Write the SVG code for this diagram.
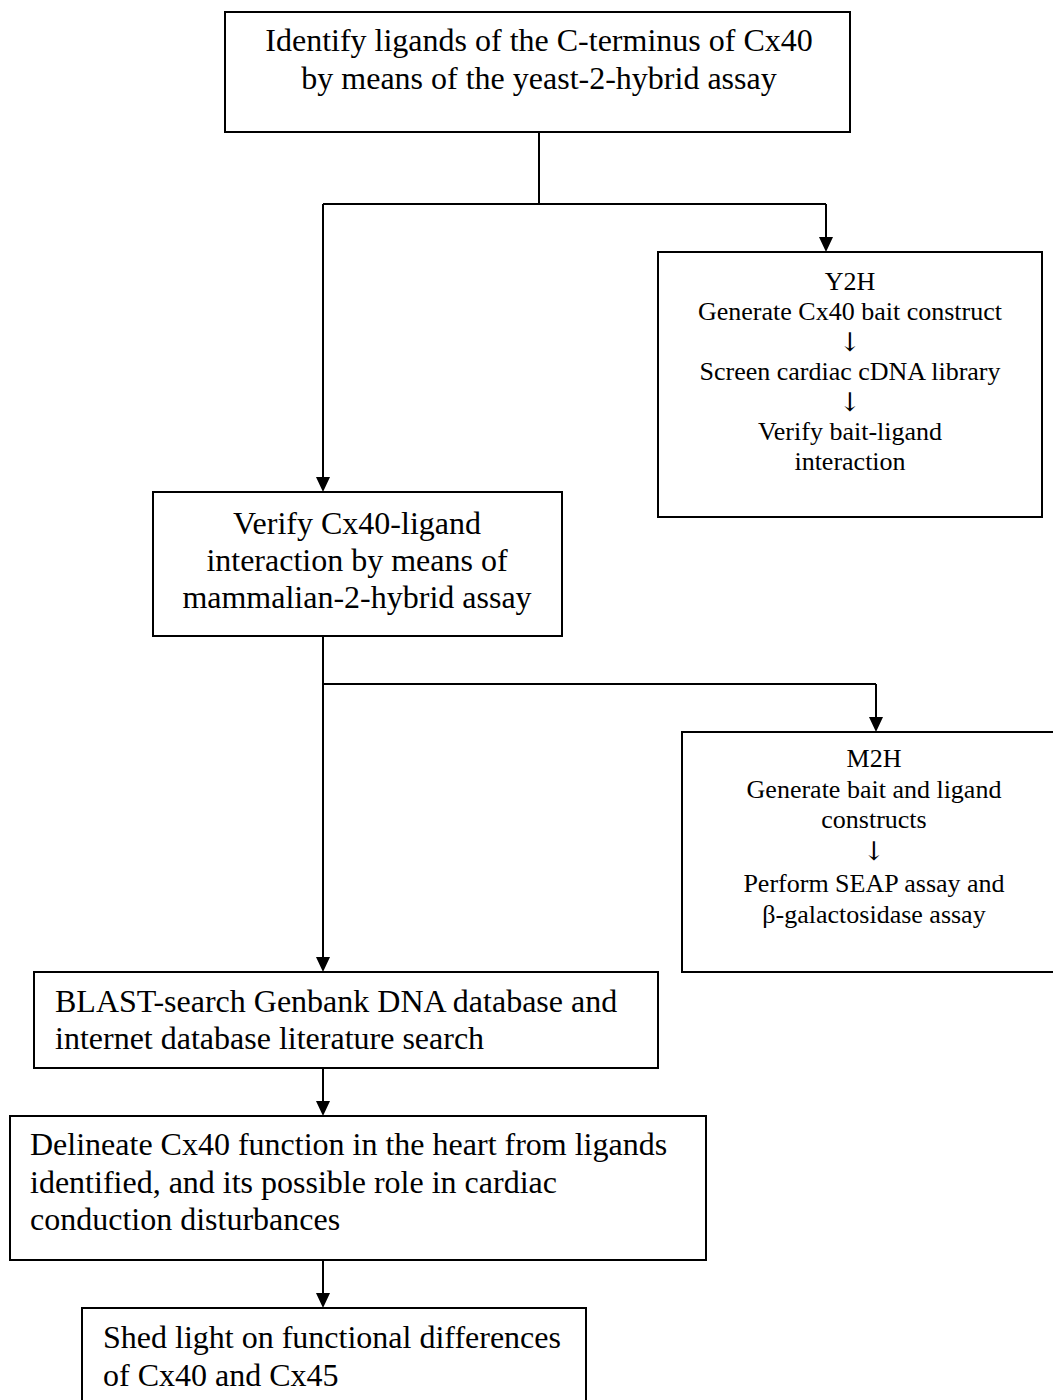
<svg xmlns="http://www.w3.org/2000/svg" width="1053" height="1400" viewBox="0 0 1053 1400">
<style>
.box{fill:#fff;stroke:#000;stroke-width:2}
.ln{fill:none;stroke:#000;stroke-width:2}
.t{font-family:"Liberation Serif","Times New Roman",serif;font-size:32px;fill:#000}
.s{font-family:"Liberation Serif","Times New Roman",serif;font-size:26px;fill:#000;text-anchor:middle}
.ar{font-family:"DejaVu Serif","DejaVu Sans",serif;font-size:26px;fill:#000;text-anchor:middle}
.c{text-anchor:middle}
</style>
<rect width="1053" height="1400" fill="#fff"/>
<g id="connectors">
<line class="ln" x1="539" y1="132" x2="539" y2="204"/>
<line class="ln" x1="323" y1="204" x2="826" y2="204"/>
<line class="ln" x1="323" y1="204" x2="323" y2="478"/>
<path d="M316,477 L330,477 L323,492 Z"/>
<line class="ln" x1="826" y1="204" x2="826" y2="238"/>
<path d="M819,237 L833,237 L826,252 Z"/>
<line class="ln" x1="323" y1="636" x2="323" y2="958"/>
<path d="M316,957 L330,957 L323,972 Z"/>
<line class="ln" x1="323" y1="684" x2="876" y2="684"/>
<line class="ln" x1="876" y1="684" x2="876" y2="718"/>
<path d="M869,717 L883,717 L876,732 Z"/>
<line class="ln" x1="323" y1="1068" x2="323" y2="1102"/>
<path d="M316,1101 L330,1101 L323,1116 Z"/>
<line class="ln" x1="323" y1="1260" x2="323" y2="1294"/>
<path d="M316,1293 L330,1293 L323,1308 Z"/>
</g>
<g id="n1">
<rect class="box" x="225" y="12" width="625" height="120"/>
<text class="t c" x="539" y="51">Identify ligands of the C-terminus of Cx40</text>
<text class="t c" x="539" y="89">by means of the yeast-2-hybrid assay</text>
</g>
<g id="n2">
<rect class="box" x="658" y="252" width="384" height="265"/>
<text class="s" x="850" y="290">Y2H</text>
<text class="s" x="850" y="320">Generate Cx40 bait construct</text>
<text class="ar" x="850" y="351">↓</text>
<text class="s" x="850" y="380">Screen cardiac cDNA library</text>
<text class="ar" x="850" y="411">↓</text>
<text class="s" x="850" y="440">Verify bait-ligand</text>
<text class="s" x="850" y="470">interaction</text>
</g>
<g id="n3">
<rect class="box" x="153" y="492" width="409" height="144"/>
<text class="t c" x="357" y="534">Verify Cx40-ligand</text>
<text class="t c" x="357" y="571">interaction by means of</text>
<text class="t c" x="357" y="608">mammalian-2-hybrid assay</text>
</g>
<g id="n4">
<rect class="box" x="682" y="732" width="384" height="240"/>
<text class="s" x="874" y="767">M2H</text>
<text class="s" x="874" y="798">Generate bait and ligand</text>
<text class="s" x="874" y="828">constructs</text>
<text class="ar" x="874" y="860">↓</text>
<text class="s" x="874" y="892">Perform SEAP assay and</text>
<text class="s" x="874" y="923">β-galactosidase assay</text>
</g>
<g id="n5">
<rect class="box" x="34" y="972" width="624" height="96"/>
<text class="t" x="55" y="1012">BLAST-search Genbank DNA database and</text>
<text class="t" x="55" y="1049">internet database literature search</text>
</g>
<g id="n6">
<rect class="box" x="10" y="1116" width="696" height="144"/>
<text class="t" x="30" y="1155">Delineate Cx40 function in the heart from ligands</text>
<text class="t" x="30" y="1193">identified, and its possible role in cardiac</text>
<text class="t" x="30" y="1230">conduction disturbances</text>
</g>
<g id="n7">
<rect class="box" x="82" y="1308" width="504" height="110"/>
<text class="t" x="103" y="1348">Shed light on functional differences</text>
<text class="t" x="103" y="1386">of Cx40 and Cx45</text>
</g>
</svg>
